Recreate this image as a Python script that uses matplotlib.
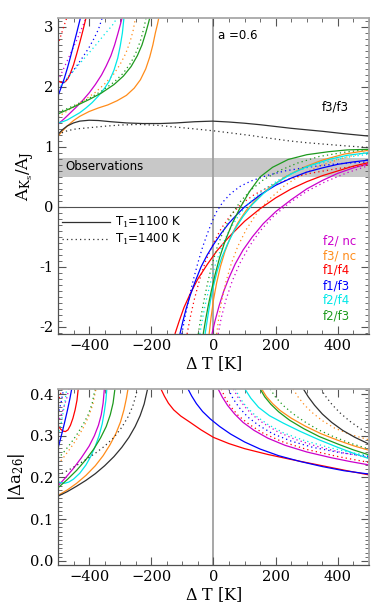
import numpy as np
import matplotlib
matplotlib.use("Agg")
from matplotlib import pyplot as plt
from matplotlib.ticker import MultipleLocator, FormatStrFormatter

# ---- colours / labels ----
labels = ["f2/ nc", "f3/ nc", "f1/f4", "f1/f3", "f2/f4", "f2/f3"]
colors = ["#cc00cc", "#ff8c1a", "#ff0000", "#0000ff", "#00e8e8", "#1e9a1e"]
black = "#303030"

# ---- top panel: A_Ks/A_J vs dT, left branches (x, y) ----
top_f2nc_1100_l = [(-500, 1.38), (-480, 1.47), (-460, 1.57), (-440, 1.67), (-420, 1.78), (-400, 1.9), (-380, 2.04), (-360, 2.2), (-345, 2.35), (-330, 2.52), (-318, 2.7), (-308, 2.88), (-299, 3.05), (-294, 3.15)]
top_f2nc_1400_l = [(-500, 2.1), (-485, 2.27), (-470, 2.44), (-455, 2.61), (-440, 2.78), (-425, 2.96), (-410, 3.15)]
top_f3nc_1100_l = [(-500, 1.18), (-485, 1.27), (-470, 1.35), (-450, 1.44), (-430, 1.51), (-400, 1.59), (-370, 1.65), (-340, 1.7), (-310, 1.77), (-280, 1.86), (-255, 1.98), (-235, 2.12), (-218, 2.3), (-205, 2.5), (-195, 2.7), (-187, 2.9), (-180, 3.05), (-176, 3.15)]
top_f3nc_1400_l = [(-500, 1.5), (-470, 1.6), (-440, 1.7), (-410, 1.8), (-380, 1.91), (-350, 2.05), (-320, 2.22), (-300, 2.38), (-282, 2.56), (-268, 2.76), (-258, 2.95), (-251, 3.15)]
top_f1f4_1100_l = [(-500, 2.1), (-492, 2.08), (-484, 2.07), (-476, 2.09), (-468, 2.14), (-460, 2.23), (-450, 2.37), (-440, 2.55), (-430, 2.74), (-420, 2.94), (-410, 3.15)]
top_f1f4_1400_l = [(-500, 2.7), (-490, 2.87), (-480, 3.03), (-472, 3.15)]
top_f1f3_1100_l = [(-500, 1.85), (-490, 1.99), (-480, 2.14), (-470, 2.31), (-460, 2.5), (-450, 2.7), (-440, 2.9), (-428, 3.15)]
top_f1f3_1400_l = [(-500, 1.95), (-480, 2.08), (-460, 2.21), (-440, 2.35), (-420, 2.5), (-400, 2.66), (-385, 2.8), (-370, 2.96), (-358, 3.15)]
top_f2f4_1100_l = [(-500, 1.4), (-485, 1.42), (-470, 1.45), (-450, 1.51), (-430, 1.57), (-410, 1.65), (-390, 1.74), (-370, 1.85), (-350, 1.98), (-335, 2.1), (-320, 2.28), (-308, 2.48), (-300, 2.68), (-293, 2.9), (-288, 3.15)]
top_f2f4_1400_l = [(-500, 1.98), (-485, 2.05), (-470, 2.15), (-440, 2.33), (-410, 2.51), (-380, 2.69), (-350, 2.88), (-325, 3.03), (-310, 3.15)]
top_f2f3_1100_l = [(-500, 1.55), (-470, 1.62), (-440, 1.69), (-400, 1.79), (-360, 1.9), (-320, 2.04), (-290, 2.18), (-265, 2.34), (-245, 2.52), (-230, 2.7), (-218, 2.9), (-210, 3.05), (-205, 3.15)]
top_f2f3_1400_l = [(-500, 1.58), (-470, 1.64), (-440, 1.71), (-400, 1.81), (-360, 1.93), (-320, 2.08), (-290, 2.23), (-265, 2.41), (-247, 2.6), (-233, 2.8), (-223, 3.0), (-217, 3.15)]

# ---- top panel: right branches ----
top_f2nc_1100_r = [(-5, -2.12), (5, -1.9), (18, -1.65), (32, -1.42), (50, -1.18), (70, -0.95), (95, -0.72), (125, -0.5), (160, -0.28), (200, -0.08), (250, 0.12), (300, 0.3), (350, 0.44), (400, 0.56), (450, 0.65), (500, 0.72)]
top_f2nc_1400_r = [(15, -2.12), (25, -1.85), (40, -1.55), (60, -1.24), (85, -0.94), (115, -0.66), (150, -0.4), (190, -0.17), (240, 0.05), (300, 0.26), (360, 0.42), (430, 0.57), (500, 0.69)]
top_f3nc_1100_r = [(-14, -2.12), (-8, -1.85), (0, -1.55), (10, -1.27), (22, -1.0), (37, -0.74), (55, -0.5), (78, -0.27), (105, -0.06), (140, 0.14), (180, 0.32), (230, 0.5), (290, 0.66), (350, 0.78), (420, 0.88), (500, 0.945)]
top_f3nc_1400_r = [(10, -2.12), (17, -1.85), (27, -1.55), (40, -1.25), (57, -0.95), (78, -0.66), (105, -0.38), (140, -0.1), (180, 0.13), (230, 0.36), (290, 0.56), (350, 0.7), (420, 0.82), (500, 0.92)]
top_f1f4_1100_r = [(-124, -2.12), (-110, -1.9), (-95, -1.68), (-75, -1.45), (-50, -1.2), (-20, -0.96), (10, -0.74), (50, -0.5), (100, -0.24), (150, -0.03), (200, 0.15), (250, 0.3), (300, 0.42), (350, 0.52), (400, 0.6), (450, 0.68), (500, 0.74)]
top_f1f4_1400_r = [(-85, -2.12), (-75, -1.85), (-62, -1.55), (-45, -1.22), (-25, -0.9), (0, -0.6), (25, -0.36), (55, -0.14), (90, 0.05), (130, 0.2), (180, 0.34), (240, 0.46), (300, 0.55), (400, 0.64), (500, 0.7)]
top_f1f3_1100_r = [(-108, -2.12), (-98, -1.9), (-88, -1.7), (-75, -1.48), (-60, -1.26), (-40, -1.0), (-20, -0.8), (0, -0.63), (25, -0.44), (50, -0.27), (75, -0.13), (100, 0.0), (150, 0.2), (200, 0.36), (250, 0.48), (300, 0.58), (350, 0.65), (400, 0.71), (450, 0.75), (500, 0.78)]
top_f1f3_1400_r = [(-102, -2.12), (-92, -1.85), (-80, -1.55), (-65, -1.22), (-50, -0.93), (-35, -0.67), (-20, -0.45), (-5, -0.25), (10, -0.08), (30, 0.08), (55, 0.22), (85, 0.34), (120, 0.43), (170, 0.52), (230, 0.6), (300, 0.66), (400, 0.72), (500, 0.75)]
top_f2f4_1100_r = [(-27, -2.12), (-19, -1.85), (-10, -1.57), (0, -1.32), (12, -1.07), (27, -0.84), (45, -0.62), (68, -0.38), (95, -0.16), (125, 0.04), (160, 0.22), (200, 0.39), (250, 0.55), (300, 0.67), (370, 0.79), (430, 0.86), (500, 0.905)]
top_f2f4_1400_r = [(-44, -2.12), (-35, -1.85), (-24, -1.57), (-10, -1.27), (5, -0.98), (25, -0.68), (50, -0.4), (80, -0.15), (115, 0.07), (160, 0.28), (210, 0.45), (270, 0.6), (340, 0.72), (420, 0.82), (500, 0.88)]
top_f2f3_1100_r = [(-33, -2.12), (-26, -1.9), (-17, -1.65), (-7, -1.4), (5, -1.13), (20, -0.84), (38, -0.56), (60, -0.28), (85, -0.02), (115, 0.25), (150, 0.5), (190, 0.66), (240, 0.79), (300, 0.87), (370, 0.92), (430, 0.95), (500, 0.96)]
top_f2f3_1400_r = [(-49, -2.12), (-41, -1.85), (-31, -1.57), (-19, -1.27), (-5, -0.97), (12, -0.67), (32, -0.4), (57, -0.14), (85, 0.08), (120, 0.28), (160, 0.45), (210, 0.6), (270, 0.73), (340, 0.84), (420, 0.91), (500, 0.96)]

# f3/f3 (black)
top_f3f3_1100 = [(-500, 1.21), (-485, 1.29), (-470, 1.35), (-450, 1.4), (-430, 1.43), (-400, 1.445), (-370, 1.44), (-330, 1.42), (-280, 1.4), (-228, 1.39), (-170, 1.39), (-120, 1.4), (-60, 1.42), (-3, 1.43), (50, 1.415), (100, 1.395), (150, 1.37), (200, 1.34), (250, 1.31), (300, 1.285), (351, 1.26), (420, 1.22), (500, 1.18)]
top_f3f3_1400 = [(-500, 1.2), (-485, 1.24), (-470, 1.27), (-442, 1.3), (-400, 1.32), (-350, 1.345), (-300, 1.365), (-239, 1.375), (-180, 1.36), (-120, 1.33), (-60, 1.3), (-3, 1.27), (60, 1.23), (120, 1.19), (180, 1.145), (244, 1.1), (300, 1.07), (370, 1.04), (430, 1.015), (500, 0.99)]

obs_band = (0.5, 0.82)

# ---- bottom panel: |Delta a26| vs dT, left branches ----
bot_f2nc_1100_l = [(-500, 0.18), (-475, 0.2), (-450, 0.222), (-425, 0.247), (-400, 0.275), (-383, 0.3), (-370, 0.325), (-361, 0.35), (-355, 0.378), (-351, 0.412)]
bot_f2nc_1400_l = [(-500, 0.33), (-485, 0.36), (-472, 0.39), (-465, 0.412)]
bot_f3nc_1100_l = [(-500, 0.157), (-470, 0.17), (-440, 0.186), (-410, 0.205), (-380, 0.228), (-355, 0.252), (-333, 0.278), (-314, 0.305), (-299, 0.333), (-288, 0.362), (-280, 0.39), (-275, 0.412)]
bot_f3nc_1400_l = [(-500, 0.232), (-480, 0.25), (-460, 0.27), (-440, 0.292), (-420, 0.317), (-402, 0.345), (-388, 0.375), (-378, 0.412)]
bot_f1f4_1100_l = [(-500, 0.325), (-492, 0.316), (-484, 0.311), (-476, 0.31), (-468, 0.314), (-460, 0.325), (-452, 0.342), (-445, 0.362), (-439, 0.385), (-435, 0.412)]
bot_f1f4_1400_l = [(-500, 0.38), (-492, 0.4), (-487, 0.412)]
bot_f1f3_1100_l = [(-500, 0.27), (-490, 0.298), (-480, 0.328), (-470, 0.36), (-462, 0.388), (-456, 0.412)]
bot_f1f3_1400_l = [(-500, 0.35), (-490, 0.38), (-482, 0.412)]
bot_f2f4_1100_l = [(-500, 0.19), (-490, 0.187), (-478, 0.186), (-465, 0.189), (-450, 0.196), (-430, 0.21), (-410, 0.23), (-395, 0.25), (-380, 0.275), (-368, 0.3), (-358, 0.328), (-351, 0.358), (-346, 0.385), (-343, 0.412)]
bot_f2f4_1400_l = [(-500, 0.3), (-490, 0.33), (-480, 0.37), (-472, 0.412)]
bot_f2f3_1100_l = [(-500, 0.175), (-470, 0.195), (-440, 0.217), (-410, 0.243), (-385, 0.268), (-363, 0.295), (-345, 0.322), (-332, 0.35), (-323, 0.378), (-317, 0.412)]
bot_f2f3_1400_l = [(-500, 0.245), (-480, 0.262), (-460, 0.281), (-440, 0.302), (-420, 0.326), (-402, 0.352), (-390, 0.378), (-381, 0.412)]
bot_f3f3_1100_l = [(-500, 0.155), (-470, 0.166), (-440, 0.179), (-410, 0.193), (-380, 0.209), (-350, 0.228), (-320, 0.25), (-295, 0.272), (-272, 0.296), (-252, 0.322), (-236, 0.348), (-223, 0.376), (-212, 0.412)]
bot_f3f3_1400_l = [(-500, 0.205), (-470, 0.216), (-440, 0.229), (-410, 0.243), (-380, 0.258), (-350, 0.275), (-320, 0.296), (-295, 0.32), (-275, 0.345), (-260, 0.37), (-250, 0.395), (-245, 0.412)]

# ---- bottom panel: right branches ----
bot_f2nc_1100_r = [(15, 0.412), (28, 0.393), (45, 0.373), (68, 0.352), (95, 0.332), (130, 0.313), (175, 0.294), (230, 0.277), (300, 0.261), (380, 0.247), (440, 0.238), (500, 0.23)]
bot_f2nc_1400_r = [(64, 0.412), (80, 0.39), (100, 0.37), (125, 0.35), (160, 0.33), (205, 0.31), (260, 0.292), (330, 0.275), (410, 0.26), (500, 0.248)]
bot_f3nc_1100_r = [(155, 0.412), (170, 0.394), (190, 0.377), (215, 0.36), (250, 0.342), (295, 0.323), (345, 0.305), (400, 0.289), (450, 0.276), (500, 0.265)]
bot_f3nc_1400_r = [(256, 0.412), (272, 0.393), (292, 0.374), (318, 0.355), (350, 0.336), (390, 0.318), (440, 0.303), (500, 0.29)]
bot_f1f4_1100_r = [(-169, 0.412), (-158, 0.395), (-145, 0.378), (-128, 0.362), (-105, 0.347), (-75, 0.332), (-40, 0.314), (0, 0.296), (50, 0.281), (100, 0.269), (175, 0.255), (250, 0.243), (350, 0.228), (430, 0.216), (500, 0.206)]
bot_f1f4_1400_r = [(25, 0.412), (38, 0.39), (55, 0.37), (80, 0.348), (115, 0.327), (160, 0.306), (220, 0.286), (300, 0.267), (400, 0.25), (500, 0.236)]
bot_f1f3_1100_r = [(-82, 0.412), (-70, 0.395), (-55, 0.377), (-35, 0.358), (-10, 0.34), (20, 0.322), (55, 0.304), (100, 0.285), (150, 0.268), (210, 0.252), (280, 0.238), (350, 0.226), (420, 0.216), (500, 0.208)]
bot_f1f3_1400_r = [(48, 0.412), (62, 0.39), (82, 0.368), (110, 0.345), (145, 0.325), (190, 0.305), (250, 0.287), (320, 0.272), (410, 0.259), (500, 0.25)]
bot_f2f4_1100_r = [(101, 0.412), (120, 0.39), (145, 0.368), (180, 0.348), (225, 0.33), (280, 0.31), (340, 0.29), (400, 0.272), (450, 0.258), (500, 0.245)]
bot_f2f4_1400_r = [(70, 0.412), (85, 0.39), (105, 0.37), (135, 0.348), (175, 0.327), (225, 0.307), (290, 0.289), (370, 0.272), (440, 0.26), (500, 0.252)]
bot_f2f3_1100_r = [(150, 0.412), (165, 0.393), (185, 0.375), (210, 0.357), (245, 0.337), (290, 0.317), (340, 0.298), (400, 0.28), (450, 0.266), (500, 0.254)]
bot_f2f3_1400_r = [(182, 0.412), (200, 0.392), (225, 0.372), (255, 0.353), (292, 0.334), (335, 0.315), (385, 0.298), (440, 0.282), (500, 0.268)]
bot_f3f3_1100_r = [(289, 0.412), (305, 0.393), (325, 0.373), (350, 0.352), (380, 0.332), (415, 0.313), (455, 0.296), (500, 0.28)]
bot_f3f3_1400_r = [(345, 0.412), (362, 0.393), (382, 0.374), (408, 0.354), (438, 0.335), (470, 0.318), (500, 0.304)]

top_curves = [
    (top_f2nc_1100_l, top_f2nc_1100_r, top_f2nc_1400_l, top_f2nc_1400_r),
    (top_f3nc_1100_l, top_f3nc_1100_r, top_f3nc_1400_l, top_f3nc_1400_r),
    (top_f1f4_1100_l, top_f1f4_1100_r, top_f1f4_1400_l, top_f1f4_1400_r),
    (top_f1f3_1100_l, top_f1f3_1100_r, top_f1f3_1400_l, top_f1f3_1400_r),
    (top_f2f4_1100_l, top_f2f4_1100_r, top_f2f4_1400_l, top_f2f4_1400_r),
    (top_f2f3_1100_l, top_f2f3_1100_r, top_f2f3_1400_l, top_f2f3_1400_r),
]
bot_curves = [
    (bot_f2nc_1100_l, bot_f2nc_1100_r, bot_f2nc_1400_l, bot_f2nc_1400_r),
    (bot_f3nc_1100_l, bot_f3nc_1100_r, bot_f3nc_1400_l, bot_f3nc_1400_r),
    (bot_f1f4_1100_l, bot_f1f4_1100_r, bot_f1f4_1400_l, bot_f1f4_1400_r),
    (bot_f1f3_1100_l, bot_f1f3_1100_r, bot_f1f3_1400_l, bot_f1f3_1400_r),
    (bot_f2f4_1100_l, bot_f2f4_1100_r, bot_f2f4_1400_l, bot_f2f4_1400_r),
    (bot_f2f3_1100_l, bot_f2f3_1100_r, bot_f2f3_1400_l, bot_f2f3_1400_r),
]

DOT = (0, (1.0, 2.5))
LW = 0.9

plt.rcParams['mathtext.fontset'] = 'dejavuserif'
plt.rcParams['font.family'] = 'DejaVu Serif'


def draw(ax, pts, color, ls):
    arr = np.array(pts, dtype=float)
    ax.plot(arr[:, 0], arr[:, 1], color=color, lw=LW, ls=ls, solid_capstyle='butt',
            solid_joinstyle='round')


def style_axes(ax, ymajor, yminor, yfmt):
    ax.set_xlim(-500, 500)
    ax.xaxis.set_major_locator(MultipleLocator(200))
    ax.xaxis.set_minor_locator(MultipleLocator(50))
    ax.yaxis.set_major_locator(MultipleLocator(ymajor))
    ax.yaxis.set_minor_locator(MultipleLocator(yminor))
    ax.yaxis.set_major_formatter(FormatStrFormatter(yfmt))
    ax.tick_params(which='both', direction='in', top=True, right=True, labelsize=10.5, color='#555555')
    ax.tick_params(which='major', length=6, width=0.8)
    ax.tick_params(which='minor', length=3, width=0.6)
    for side in ['left', 'bottom']:
        ax.spines[side].set_color('#505050')
        ax.spines[side].set_linewidth(0.9)
    for side in ['top', 'right']:
        ax.spines[side].set_color('#a8a8a8')
        ax.spines[side].set_linewidth(1.3)
    ax.set_xlabel(r'$\Delta$ T [K]', fontsize=11.5, labelpad=1)


fig = plt.figure(figsize=(3.88, 6.08), dpi=100)
ax1 = fig.add_axes([0.1495, 0.4507, 0.8015, 0.5197])
ax2 = fig.add_axes([0.1495, 0.0707, 0.8015, 0.2895])

# ---- top panel ----
ax1.axhspan(obs_band[0], obs_band[1], color='#c8c8c8', lw=0, zorder=0)
ax1.axvline(0, color='#a0a0a0', lw=1.3, zorder=1)
ax1.axhline(0, color='#505050', lw=0.8, zorder=1)
for (l1, r1, l2, r2), c in zip(top_curves, colors):
    draw(ax1, l1, c, '-')
    draw(ax1, r1, c, '-')
    draw(ax1, l2, c, DOT)
    draw(ax1, r2, c, DOT)
draw(ax1, top_f3f3_1100, black, '-')
draw(ax1, top_f3f3_1400, black, DOT)
ax1.set_ylim(-2.12, 3.15)
style_axes(ax1, 1, 0.1, '%d')
ax1.set_ylabel(r'$\mathrm{A_{K_s}/A_J}$', fontsize=12, labelpad=2)

sans = 'DejaVu Sans'
ax1.text(0.025, 0.53, 'Observations', transform=ax1.transAxes, fontsize=8.5, family=sans, va='center')
ax1.plot([0.013, 0.167], [0.354, 0.354], transform=ax1.transAxes, color=black, lw=LW)
ax1.plot([0.013, 0.167], [0.300, 0.300], transform=ax1.transAxes, color=black, lw=LW, ls=DOT)
ax1.text(0.183, 0.354, r'T$_1$=1100 K', transform=ax1.transAxes, fontsize=8.5, family=sans, va='center')
ax1.text(0.183, 0.300, r'T$_1$=1400 K', transform=ax1.transAxes, fontsize=8.5, family=sans, va='center')
ax1.text(0.515, 0.946, 'a =0.6', transform=ax1.transAxes, fontsize=8.5, family=sans, va='center')
ax1.text(0.848, 0.718, 'f3/f3', transform=ax1.transAxes, fontsize=8.5, family=sans, va='center')
label_y = [0.294, 0.247, 0.203, 0.152, 0.108, 0.057]
for lab, c, yy in zip(labels, colors, label_y):
    ax1.text(0.852, yy, lab, transform=ax1.transAxes, fontsize=8.5, family=sans, va='center', color=c)

# ---- bottom panel ----
ax2.axvline(0, color='#a0a0a0', lw=1.3, zorder=1)
for (l1, r1, l2, r2), c in zip(bot_curves, colors):
    draw(ax2, l1, c, '-')
    draw(ax2, r1, c, '-')
    draw(ax2, l2, c, DOT)
    draw(ax2, r2, c, DOT)
draw(ax2, bot_f3f3_1100_l, black, '-')
draw(ax2, bot_f3f3_1100_r, black, '-')
draw(ax2, bot_f3f3_1400_l, black, DOT)
draw(ax2, bot_f3f3_1400_r, black, DOT)
ax2.set_ylim(-0.01, 0.412)
style_axes(ax2, 0.1, 0.01, '%.1f')
ax2.set_ylabel(r'$|\Delta \mathrm{a}_{26}|$', fontsize=12, labelpad=2)

fig.savefig('out.png', dpi=100)
